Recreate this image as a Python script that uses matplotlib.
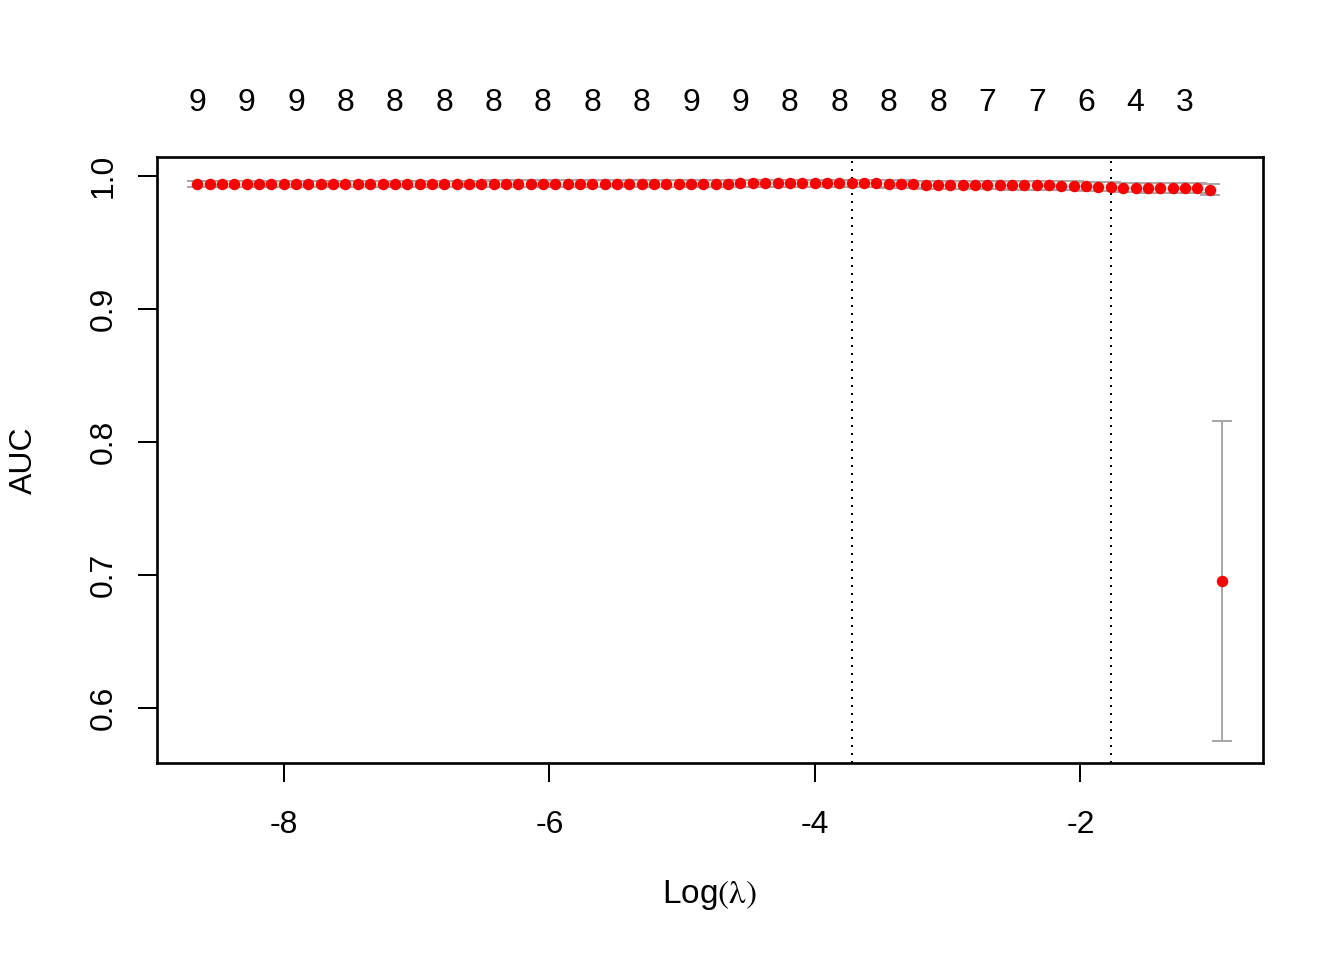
import matplotlib
matplotlib.use("Agg")
from matplotlib import pyplot as plt

plt.rcParams['font.family'] = ['Liberation Sans', 'DejaVu Sans']
plt.rcParams['mathtext.fontset'] = 'stix'
plt.rcParams['axes.unicode_minus'] = False

# log(lambda) grid of the cv fit, left to right
log_lam = [-8.653, -8.560, -8.467, -8.374, -8.281, -8.188, -8.095, -8.002, -7.909, -7.816,
           -7.723, -7.630, -7.537, -7.444, -7.351, -7.258, -7.165, -7.072, -6.979, -6.886,
           -6.793, -6.700, -6.607, -6.514, -6.421, -6.328, -6.235, -6.142, -6.049, -5.956,
           -5.863, -5.770, -5.677, -5.584, -5.491, -5.398, -5.305, -5.212, -5.119, -5.026,
           -4.933, -4.840, -4.747, -4.654, -4.561, -4.468, -4.375, -4.282, -4.189, -4.096,
           -4.003, -3.910, -3.817, -3.724, -3.631, -3.538, -3.445, -3.352, -3.259, -3.166,
           -3.073, -2.980, -2.887, -2.794, -2.701, -2.608, -2.515, -2.422, -2.329, -2.236,
           -2.143, -2.050, -1.957, -1.864, -1.771, -1.678, -1.585, -1.492, -1.399, -1.306,
           -1.213, -1.120, -1.027, -0.934]

# mean cross-validated AUC
auc = [0.9942, 0.9942, 0.9942, 0.9942, 0.9942, 0.9942, 0.9942, 0.9942, 0.9942, 0.9942,
       0.9942, 0.9942, 0.9942, 0.9942, 0.9942, 0.9942, 0.9942, 0.9942, 0.9942, 0.9942,
       0.9942, 0.9942, 0.9942, 0.9942, 0.9943, 0.9943, 0.9943, 0.9943, 0.9943, 0.9943,
       0.9943, 0.9943, 0.9943, 0.9943, 0.9943, 0.9943, 0.9943, 0.9943, 0.9943, 0.9943,
       0.9943, 0.9943, 0.9943, 0.9943, 0.9944, 0.9944, 0.9944, 0.9944, 0.9944, 0.9944,
       0.9944, 0.9944, 0.9945, 0.9945, 0.9944, 0.9944, 0.9940, 0.9937, 0.9936, 0.9935,
       0.9935, 0.9934, 0.9934, 0.9933, 0.9932, 0.9931, 0.9930, 0.9930, 0.9929, 0.9929,
       0.9928, 0.9926, 0.9922, 0.9920, 0.9920, 0.9913, 0.9912, 0.9912, 0.9912, 0.9912,
       0.9912, 0.9911, 0.9895, 0.6955]

# standard error of AUC
auc_se = [0.0023, 0.0023, 0.0023, 0.0023, 0.0023, 0.0023, 0.0023, 0.0023, 0.0023, 0.0023,
          0.0023, 0.0023, 0.0023, 0.0023, 0.0023, 0.0023, 0.0023, 0.0023, 0.0023, 0.0023,
          0.0023, 0.0023, 0.0023, 0.0023, 0.0023, 0.0023, 0.0023, 0.0023, 0.0023, 0.0023,
          0.0023, 0.0023, 0.0023, 0.0023, 0.0023, 0.0023, 0.0023, 0.0023, 0.0023, 0.0023,
          0.0024, 0.0024, 0.0024, 0.0024, 0.0024, 0.0024, 0.0025, 0.0025, 0.0025, 0.0025,
          0.0025, 0.0026, 0.0026, 0.0026, 0.0027, 0.0027, 0.0028, 0.0029, 0.0029, 0.0030,
          0.0030, 0.0030, 0.0031, 0.0031, 0.0031, 0.0032, 0.0032, 0.0032, 0.0033, 0.0033,
          0.0033, 0.0034, 0.0034, 0.0034, 0.0034, 0.0036, 0.0036, 0.0037, 0.0037, 0.0038,
          0.0038, 0.0038, 0.0041, 0.1203]

# number of nonzero coefficients shown on top (every 4th lambda)
nzero = [9, 9, 9, 8, 8, 8, 8, 8, 8, 8, 9, 9, 8, 8, 8, 8, 7, 7, 6, 4, 3]

log_lambda_min = -3.724
log_lambda_1se = -1.771

fig = plt.figure(figsize=(7, 5), dpi=192)
ax = fig.add_axes([0.1168, 0.2052, 0.8229, 0.6313])

ax.errorbar(log_lam, auc, yerr=auc_se, fmt='none', ecolor='darkgrey',
            elinewidth=0.75, capsize=3.8, capthick=0.75, zorder=2)
ax.plot(log_lam, auc, 'o', color='red', markersize=4.3, markeredgewidth=0, zorder=3)

for v in (log_lambda_min, log_lambda_1se):
    ax.axvline(v, color='black', lw=0.75, linestyle=(0, (1, 3)), zorder=1)

for xpos, n in zip(log_lam[::4], nzero):
    ax.text(xpos, 1.089, str(n), transform=ax.get_xaxis_transform(),
            ha='center', va='center', fontsize=12)

ax.set_xlim(-8.957, -0.625)
ax.set_ylim(0.5586, 1.0143)
ax.set_xticks([-8, -6, -4, -2])
ax.set_yticks([0.6, 0.7, 0.8, 0.9, 1.0])
ax.set_yticklabels(['0.6', '0.7', '0.8', '0.9', '1.0'])

for spine in ax.spines.values():
    spine.set_linewidth(1.0)
ax.tick_params(axis='both', length=7.2, width=0.75, labelsize=12)
ax.tick_params(axis='x', pad=10.5)
ax.tick_params(axis='y', pad=7, labelrotation=90)
for lbl in ax.get_yticklabels():
    lbl.set_va('center')

fig.text(0.528, 0.068, r'Log$\mathrm{(\lambda)}$', ha='center', va='center', fontsize=12.5)
fig.text(0.0179, 0.521, 'AUC', ha='center', va='center', rotation=90, fontsize=12)

fig.savefig('out.png', dpi=192)
